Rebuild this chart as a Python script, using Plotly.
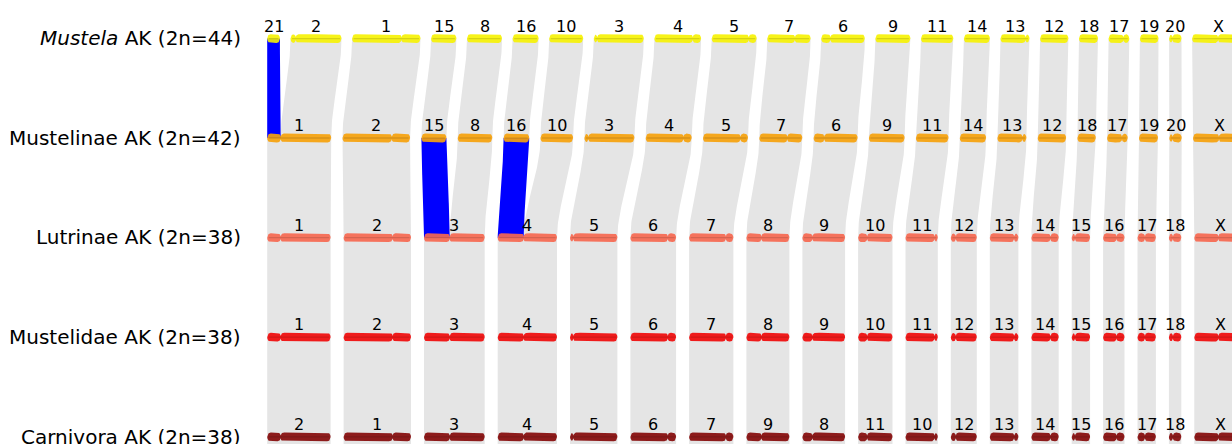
import numpy as np
import plotly.graph_objects as go

# ---------------- data ----------------
row_titles = ["<i>Mustela</i> AK (2n=44)", "Mustelinae AK (2n=42)", "Lutrinae AK (2n=38)",
              "Mustelidae AK (2n=38)", "Carnivora AK (2n=38)"]

mustela_labels = ["21", "2", "1", "15", "8", "16", "10", "3", "4", "5", "7", "6", "9", "11", "14",
                  "13", "12", "18", "17", "19", "20", "X"]
mustela_len = [12.7, 51.0, 68.4, 25.3, 35.0, 26.0, 34.0, 50.0, 46.7, 45.0, 43.3, 43.6, 35.0, 32.3,
               26.0, 29.0, 28.3, 19.0, 20.7, 18.6, 12.4, 52.0]
mustela_cen = [None, 5.3, 49.4, None, None, None, None, 3.4, 38.3, 37.0, 27.6, 9.3, None, None,
               None, 25.0, None, None, 14.7, None, 3.4, 26.0]

mustelinae_labels = ["1", "2", "15", "8", "16", "10", "3", "4", "5", "7", "6", "9", "11", "14",
                     "13", "12", "18", "17", "19", "20", "X"]
mustelinae_len = [64.0, 67.6, 25.0, 34.6, 25.6, 32.6, 50.0, 46.0, 45.0, 43.0, 44.0, 35.7, 32.6,
                  26.3, 29.0, 28.4, 18.4, 20.6, 19.0, 12.4, 52.0]
mustelinae_cen = [13.5, 49.3, None, None, None, None, 4.0, 37.7, 37.4, 28.0, 10.7, None, None,
                  None, 25.0, None, None, 14.9, None, 3.4, 26.0]

lutrinae_labels = ["1", "2", "3", "4", "5", "6", "7", "8", "9", "10", "11", "12", "13", "14",
                   "15", "16", "17", "18", "X"]
lutrinae_len = [63.4, 67.4, 60.7, 59.3, 47.4, 45.7, 44.3, 43.0, 42.7, 34.4, 32.3, 26.0, 28.6,
                27.3, 18.4, 21.4, 18.4, 12.4, 52.0]
lutrinae_cen = [13.4, 49.0, 25.7, 26.0, 3.4, 37.3, 36.7, 15.0, 10.0, 9.0, 29.0, 5.0, 24.3, 19.0,
                3.4, 13.4, 7.4, 4.0, 24.0]

mustelidae_labels = ["1", "2", "3", "4", "5", "6", "7", "8", "9", "10", "11", "12", "13", "14",
                     "15", "16", "17", "18", "X"]
mustelidae_len = [63.4, 67.4, 60.7, 59.3, 47.4, 45.7, 44.3, 43.0, 42.7, 34.4, 32.3, 26.0, 28.6,
                  27.3, 18.4, 21.4, 18.4, 12.4, 52.0]
mustelidae_cen = [13.4, 49.0, 25.7, 26.0, 3.4, 37.3, 36.7, 15.0, 10.0, 9.0, 29.0, 5.0, 24.3, 19.0,
                  3.4, 13.4, 7.4, 4.0, 24.0]

carnivora_labels = ["2", "1", "3", "4", "5", "6", "7", "9", "8", "11", "10", "12", "13", "14",
                    "15", "16", "17", "18", "X"]
carnivora_len = [63.4, 67.4, 60.7, 59.3, 47.4, 45.7, 44.3, 43.0, 42.7, 34.4, 32.3, 26.0, 28.6,
                 27.3, 18.4, 21.4, 18.4, 12.4, 52.0]
carnivora_cen = [13.4, 49.0, 25.7, 26.0, 3.4, 37.3, 36.7, 15.0, 10.0, 9.0, 29.0, 5.0, 24.3, 19.0,
                 3.4, 13.4, 7.4, 4.0, 24.0]

# links: (upper chromosome, lower chromosome, lower segment: all / p (before cen) / q (after cen), highlighted)
links_mustela_mustelinae = [("21", "1", "p", True), ("2", "1", "q", False), ("1", "2", "all", False)] + \
    [(c, c, "all", False) for c in ["15", "8", "16", "10", "3", "4", "5", "7", "6", "9", "11", "14",
                                     "13", "12", "18", "17", "19", "20", "X"]]
links_mustelinae_lutrinae = [("1", "1", "all", False), ("2", "2", "all", False),
                             ("15", "3", "p", True), ("8", "3", "q", False),
                             ("16", "4", "p", True), ("10", "4", "q", False),
                             ("3", "5", "all", False), ("4", "6", "all", False), ("5", "7", "all", False),
                             ("7", "8", "all", False), ("6", "9", "all", False), ("9", "10", "all", False),
                             ("11", "11", "all", False), ("14", "12", "all", False), ("13", "13", "all", False),
                             ("12", "14", "all", False), ("18", "15", "all", False), ("17", "16", "all", False),
                             ("19", "17", "all", False), ("20", "18", "all", False), ("X", "X", "all", False)]

# ---------------- layout constants ----------------
W, H = 1232, 444
X0 = 267.2
ROW_Y = [38.6, 138.0, 237.7, 337.2, 436.9]
ROW_GAP = [10.6, 11.3, 13.0, 13.0, 13.0]
ROW_COLORS = ["rgba(246,242,0,0.9)", "rgba(246,162,12,0.92)", "rgba(246,104,80,0.92)",
              "rgba(240,12,12,0.93)", "rgba(134,12,12,0.93)"]
GREY = "rgb(229,229,229)"
BLUE = "rgb(0,0,255)"
R = 4.4      # half bar height
RC = 3.2     # rounding length
NECK = 1.3   # half height at centromere
FONT = "DejaVu Sans"

rows = [
    (mustela_labels, mustela_len, mustela_cen),
    (mustelinae_labels, mustelinae_len, mustelinae_cen),
    (lutrinae_labels, lutrinae_len, lutrinae_cen),
    (mustelidae_labels, mustelidae_len, mustelidae_cen),
    (carnivora_labels, carnivora_len, carnivora_cen),
]


def row_layout(lengths, gap):
    starts, x = [], X0
    for L in lengths:
        starts.append(x)
        x += L + gap
    return starts


row_pos = []
for (labs, lens, cens), gap in zip(rows, ROW_GAP):
    st = row_layout(lens, gap)
    row_pos.append({lab: (s, L, c) for lab, s, L, c in zip(labs, st, lens, cens)})


def seg(rowi, lab, part):
    s, L, c = row_pos[rowi][lab]
    if part == "all" or c is None:
        return s, s + L
    if part == "p":
        return s, s + c
    return s + c, s + L


def smooth(t):
    return 3 * t ** 2 - 2 * t ** 3


def ribbon(xa, xb, ya, xc, xd, yb):
    t = np.linspace(0, 1, 60)
    st = smooth(t)
    ys = ya + (yb - ya) * t
    left = xa + (xc - xa) * st
    right = xb + (xd - xb) * st
    xs = np.concatenate([left, right[::-1], [left[0]]])
    yy = np.concatenate([ys, ys[::-1], [ys[0]]])
    return list(xs), list(yy)


def capf(d, r):
    d = np.clip(d / r, 0, 1)
    return np.sqrt(1 - (1 - d) ** 2)


def bar_poly(s, L, c, yc):
    xs = np.linspace(s, s + L, max(int(L * 4), 30))
    if c is not None:
        xs = np.unique(np.concatenate([xs, [s + c]]))
    rel = xs - s
    h = R * capf(np.minimum(rel, L - rel), RC)
    if c is not None:
        hc = NECK + (R - NECK) * capf(np.abs(rel - c), RC)
        h = np.minimum(h, hc)
    px = np.concatenate([xs, xs[::-1], [xs[0]]])
    py = np.concatenate([yc - h, (yc + h)[::-1], [yc - h[0]]])
    return list(px), list(py)


fig = go.Figure()

# ---------------- ribbons ----------------
grey_x, grey_y, blue_polys = [], [], []
link_sets = [(0, 1, links_mustela_mustelinae), (1, 2, links_mustelinae_lutrinae)]
for ra, rb, links in link_sets:
    for up, lo, part, hl in links:
        xa, xb = seg(ra, up, "all")
        xc, xd = seg(rb, lo, part)
        px, py = ribbon(xa, xb, ROW_Y[ra], xc, xd, ROW_Y[rb])
        if hl:
            blue_polys.append((px, py))
        else:
            grey_x += px + [None]
            grey_y += py + [None]
# straight links for same-order rows (Lutrinae -> Mustelidae -> Carnivora -> below)
for ra in [2, 3]:
    labs_a = rows[ra][0]
    labs_b = rows[ra + 1][0]
    for la, lb in zip(labs_a, labs_b):
        xa, xb = seg(ra, la, "all")
        xc, xd = seg(ra + 1, lb, "all")
        px, py = ribbon(xa, xb, ROW_Y[ra], xc, xd, ROW_Y[ra + 1])
        grey_x += px + [None]
        grey_y += py + [None]
for lb in rows[4][0]:
    xa, xb = seg(4, lb, "all")
    px, py = ribbon(xa, xb, ROW_Y[4], xa, xb, H + 30)
    grey_x += px + [None]
    grey_y += py + [None]

fig.add_trace(go.Scatter(x=grey_x, y=grey_y, mode="lines", fill="toself", fillcolor=GREY,
                         line=dict(width=0, color=GREY), hoverinfo="skip", showlegend=False))
for px, py in blue_polys:
    fig.add_trace(go.Scatter(x=px, y=py, mode="lines", fill="toself", fillcolor=BLUE,
                             line=dict(width=0, color=BLUE), hoverinfo="skip", showlegend=False))

# ---------------- chromosome bars ----------------
annotations = []
for ri, (labs, lens, cens) in enumerate(rows):
    yc = ROW_Y[ri]
    bx, by, lx, ly = [], [], [], []
    for lab in labs:
        s, L, c = row_pos[ri][lab]
        px, py = bar_poly(s, L, None if c is None else c, yc)
        bx += px + [None]
        by += py + [None]
        lx += [s + 1.5, s + L - 1.5, None]
        ly += [yc, yc, None]
        annotations.append(dict(x=s + L / 2, y=yc - 12.6, text=lab, showarrow=False,
                                xref="x", yref="y", xanchor="center", yanchor="middle",
                                font=dict(family=FONT, size=16, color="black")))
    fig.add_trace(go.Scatter(x=bx, y=by, mode="lines", fill="toself", fillcolor=ROW_COLORS[ri],
                             line=dict(width=0, color=ROW_COLORS[ri]), hoverinfo="skip",
                             showlegend=False))
    fig.add_trace(go.Scatter(x=lx, y=ly, mode="lines", line=dict(width=1.3, color="rgba(0,0,0,0.13)"),
                             hoverinfo="skip", showlegend=False))
    annotations.append(dict(x=243, y=yc - 0.3, text=row_titles[ri], showarrow=False,
                            xref="x", yref="y", xanchor="right", yanchor="middle",
                            font=dict(family=FONT, size=20, color="black")))

fig.update_layout(
    width=W, height=H, margin=dict(l=0, r=0, t=0, b=0),
    paper_bgcolor="white", plot_bgcolor="white",
    xaxis=dict(range=[0, W], visible=False, fixedrange=True),
    yaxis=dict(range=[H, 0], visible=False, fixedrange=True),
    annotations=annotations, showlegend=False,
)

fig.write_html("out.html")
